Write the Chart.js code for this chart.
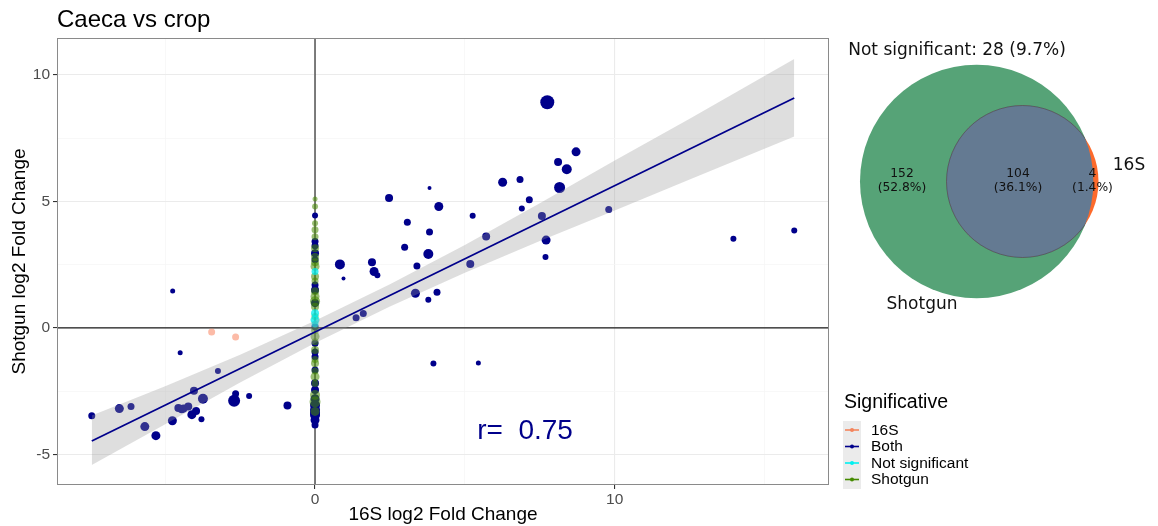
<!DOCTYPE html>
<html><head><meta charset="utf-8">
<script src="https://cdn.jsdelivr.net/npm/chart.js@4/dist/chart.umd.min.js"></script>
<style>
html,body{margin:0;padding:0;background:#fff;}
#wrap{position:relative;width:1158px;height:526px;overflow:hidden;background:#fff;}
#main{position:absolute;left:0;top:0;}
#venn{position:absolute;left:830px;top:30px;}
</style></head><body>
<div id="wrap"><canvas id="main" width="1158" height="526"></canvas><canvas id="venn" width="328" height="300"></canvas></div>
<script>
// ---------- axis ranges & ticks ----------
const xMin = -8.61, xMax = 17.15;
const yMin = -6.21, yMax = 11.46;
const xGridAt = [-5, 0, 5, 10, 15];
const xLabelAt = [0, 10];
const yGridAt = [-5, -2.5, 0, 2.5, 5, 7.5, 10];
const yLabelAt = [-5, 0, 5, 10];

// ---------- series: Both ----------
const bothX = [7.75, 8.71, 8.11, 8.40, 8.16, 6.26, 6.84, 7.15, 6.90, 7.57, 9.80, 7.71, 7.69, 5.26, 5.71, 5.18, 4.13, 3.82, 2.47, 3.08,
  3.82, 2.99, 3.78, 3.40, 0.83, 0.95, 1.90, 1.97, 2.08, 3.35, 3.78, 4.07, 1.37, 1.61, 3.95, 5.45, 13.96, 15.99,
  -4.75, -4.50, -3.24, -4.04, -3.74, -2.65, -2.70, -2.20, -0.92, -7.45, -6.53, -6.14, -5.68, -5.31, -4.76, -4.56, -4.39, -4.23, -4.45, -4.11, -3.97, -3.79,
  0, 0, 0, 0, 0, 0, 0, 0, 0, 0, 0, 0, 0, 0, 0, 0, 0, 0, 0, 0, 0, 0];
const bothY = [8.92, 6.96, 6.56, 6.27, 5.55, 5.76, 5.87, 5.07, 4.72, 4.42, 4.68, 3.47, 2.80, 4.43, 3.61, 2.53, 4.80, 5.53, 5.14, 4.18,
  3.79, 3.19, 2.92, 2.45, 2.51, 1.95, 2.60, 2.23, 2.08, 1.37, 1.11, 1.41, 0.40, 0.57, -1.41, -1.39, 3.52, 3.85,
  1.46, -0.98, -1.70, -2.48, -2.80, -2.60, -2.88, -2.69, -3.07, -3.47, -3.19, -3.11, -3.90, -4.26, -3.67, -3.17, -3.19, -3.11, -3.22, -3.43, -3.28, -3.61,
  4.44, 3.42, 3.25, 2.95, 2.69, 1.70, 1.50, 0.98, 0.05, -0.61, -1.14, -1.66, -2.19, -2.45, -2.80, -3.05, -3.24, -3.44, -3.64, -3.84, -3.35, -0.95];
const bothSize = [7, 4.5, 4, 5, 5.5, 4.5, 3.5, 3.5, 3, 4, 3.5, 4.5, 3, 3, 4, 4, 4.5, 2, 4, 3.5,
  3.5, 3.5, 5, 3.5, 5, 2, 4, 4.5, 3, 4.5, 3, 3.5, 3.5, 3.5, 3, 2.5, 3, 3,
  2.5, 2.5, 3, 4, 5, 3.5, 6, 3, 4, 3.5, 4.5, 3.5, 4.5, 4.5, 4.5, 4, 4, 4, 4, 4.5, 4, 3,
  3, 3.5, 3.5, 4, 3.5, 3.5, 4, 4, 3.5, 3.5, 3.5, 3.5, 4, 4, 4.5, 5, 5, 5, 4.5, 3.5, 5, 3.5];

// ---------- series: Shotgun (16S fold change = 0) ----------
const shotY = [5.10, 4.80, 4.14, 3.88, 3.60, 3.15, 2.80, 2.43, 2.03, 1.85, 1.24, 1.05, 0.84, 0.45, -0.08, -0.34, -0.87, -1.25, -1.40, -1.93, -2.20, -2.65, -2.92, -3.30, 2.60, 1.45, -0.55, -1.70];
const shotSize = [2.5, 3, 3, 3.5, 3.5, 4, 4, 4.5, 4, 3.5, 4.5, 5, 4, 3.5, 4, 4.5, 4, 3.5, 4, 4.5, 3.5, 5, 5.5, 4.5, 4, 4, 3.5, 3.5];

// ---------- series: Not significant ----------
const nsY = [2.23, 0.58, 0.32, 0.15];
const nsSize = [3.5, 4, 4.5, 3.5];

// ---------- series: 16S only ----------
const s16X = [-3.45, -2.65];
const s16Y = [-0.16, -0.36];
const s16Size = [3.5, 3.5];

// ---------- linear fit & confidence band ----------
const fitX = [-7.45, 15.99];
const fitY = [-4.47, 9.09];
const bandX = [-7.45, -5, -2.5, 0, 2.5, 5, 7.5, 10, 12.5, 15.99];
const bandLow = [-5.42, -3.81, -2.16, -0.60, 0.85, 2.18, 3.44, 4.64, 5.87, 7.57];
const bandHigh = [-3.46, -2.31, -1.06, 0.28, 1.73, 3.28, 4.93, 6.62, 8.27, 10.63];
const corrText = 'r=  0.75';
const corrAt = [5.41, -4.08];

// ---------- legend ----------
const legendTitle = 'Significative';
const legendLabels = ['16S', 'Both', 'Not significant', 'Shotgun'];
const legendColors = ['#f4845c', '#00008b', '#00f0f0', '#458b00'];

// ---------- venn ----------
const vennNames = ['Shotgun', '16S'];
const vennCX = [1.467, 1.925];
const vennCY = [1.485, 1.485];
const vennR = [1.167, 0.76];
const vennCounts = ['152', '104', '4'];
const vennPct = ['(52.8%)', '(36.1%)', '(1.4%)'];
const vennNotSig = 'Not significant: 28 (9.7%)';

const SANS = "'Liberation Sans', Arial, sans-serif";
const DJV = "'DejaVu Sans', sans-serif";

const pts = (xs, ys, rs) => ys.map((y, i) => ({x: xs[i], y: y, r: rs[i]}));
const zeros = n => new Array(n).fill(0);
const xy = (xs, ys) => xs.map((x, i) => ({x: x, y: ys[i]}));

const decor = {
  id: 'decor',
  afterDraw(chart) {
    const {ctx, chartArea: a, scales: {x, y}} = chart;
    ctx.save();
    ctx.strokeStyle = '#8a8a8a'; ctx.lineWidth = 1;
    ctx.strokeRect(Math.round(a.left) + 0.5, Math.round(a.top) + 0.5, Math.round(a.right - a.left) - 1, Math.round(a.bottom - a.top) - 1);
    ctx.fillStyle = '#000'; ctx.textAlign = 'left'; ctx.textBaseline = 'alphabetic';
    ctx.font = '24px ' + SANS;
    ctx.fillText('Caeca vs crop', 57, 27);
    ctx.fillStyle = '#00008b'; ctx.font = '28px ' + SANS; ctx.textBaseline = 'middle';
    ctx.fillText(corrText, x.getPixelForValue(corrAt[0]), y.getPixelForValue(corrAt[1]));
    // legend
    ctx.fillStyle = '#000'; ctx.font = '19.5px ' + SANS;
    ctx.fillText(legendTitle, 844, 403);
    ctx.fillStyle = '#ebebeb'; ctx.fillRect(843, 421, 18, 68);
    ctx.font = '15.5px ' + SANS;
    legendLabels.forEach((lab, i) => {
      const yy = 430 + i * 16.5;
      ctx.strokeStyle = legendColors[i]; ctx.lineWidth = 1.6;
      ctx.beginPath(); ctx.moveTo(845, yy); ctx.lineTo(859, yy); ctx.stroke();
      ctx.fillStyle = legendColors[i];
      ctx.beginPath(); ctx.arc(852, yy, 2, 0, Math.PI * 2); ctx.fill();
      ctx.fillStyle = '#000';
      ctx.fillText(lab, 871, yy + 0.5);
    });
    ctx.restore();
  }
};

const isLab = c => c.tick && (c.scale.axis === 'x' ? xLabelAt : yLabelAt).includes(c.tick.value);
const gridColor = c => isLab(c) ? '#ebebeb' : '#f5f5f5';
const gridWidth = c => isLab(c) ? 1.1 : 0.7;
const tickCol = c => isLab(c) ? '#333333' : 'rgba(0,0,0,0)';

new Chart(document.getElementById('main'), {
  type: 'bubble',
  data: {datasets: [
    {type: 'line', data: [{x: 0, y: yMin}, {x: 0, y: yMax}], borderColor: '#1a1a1a', borderWidth: 1.1, pointRadius: 0, order: 10},
    {type: 'line', data: [{x: xMin, y: 0}, {x: xMax, y: 0}], borderColor: '#1a1a1a', borderWidth: 1.1, pointRadius: 0, order: 10},
    {label: 'Both', data: pts(bothX, bothY, bothSize), backgroundColor: '#00008b', borderWidth: 0, order: 5},
    {label: 'Shotgun', data: pts(zeros(shotY.length), shotY, shotSize), backgroundColor: 'rgba(69,139,0,0.55)', borderWidth: 0, order: 4},
    {label: 'Not significant', data: pts(zeros(nsY.length), nsY, nsSize), backgroundColor: 'rgba(0,235,235,0.75)', borderWidth: 0, order: 3},
    {label: '16S', data: pts(s16X, s16Y, s16Size), backgroundColor: 'rgba(250,120,80,0.5)', borderWidth: 0, order: 3},
    {type: 'line', data: xy(bandX, bandLow), borderWidth: 0, borderColor: 'rgba(0,0,0,0)', pointRadius: 0, fill: false, order: 1},
    {type: 'line', data: xy(bandX, bandHigh), borderWidth: 0, borderColor: 'rgba(0,0,0,0)', pointRadius: 0, fill: '-1', backgroundColor: 'rgba(153,153,153,0.32)', order: 1},
    {type: 'line', data: xy(fitX, fitY), borderColor: '#00008b', borderWidth: 1.8, pointRadius: 0, order: 0}
  ]},
  options: {
    responsive: false, animation: false, events: [],
    layout: {padding: {left: 0, top: 38, right: 329, bottom: 0}},
    plugins: {legend: {display: false}, tooltip: {enabled: false}},
    scales: {
      x: {
        type: 'linear', min: xMin, max: xMax,
        afterBuildTicks: s => { s.ticks = xGridAt.map(v => ({value: v})); },
        afterFit: s => { s.height = 41; },
        ticks: {autoSkip: false, maxRotation: 0, padding: 1, color: '#4d4d4d', font: {family: SANS, size: 15.5},
          callback: v => xLabelAt.includes(v) ? String(v) : ''},
        grid: {color: gridColor, lineWidth: gridWidth, tickColor: tickCol, tickLength: 4, drawTicks: true},
        border: {display: false},
        title: {display: true, text: '16S log2 Fold Change', color: '#000', font: {family: SANS, size: 19}, padding: {top: 0, bottom: 0}}
      },
      y: {
        type: 'linear', min: yMin, max: yMax,
        afterBuildTicks: s => { s.ticks = yGridAt.map(v => ({value: v})); },
        afterFit: s => { s.width = 57; },
        ticks: {autoSkip: false, padding: 3, color: '#4d4d4d', font: {family: SANS, size: 15.5},
          callback: v => yLabelAt.includes(v) ? String(v) : ''},
        grid: {color: gridColor, lineWidth: gridWidth, tickColor: tickCol, tickLength: 4, drawTicks: true},
        border: {display: false},
        title: {display: true, text: 'Shotgun log2 Fold Change', color: '#000', font: {family: SANS, size: 19}, padding: {top: 8.6, bottom: 0}}
      }
    }
  },
  plugins: [decor]
});

// ---------- venn diagram ----------
const vennLabelPos = [[0.72, 1.49], [1.88, 1.49], [2.625, 1.49]];
const vennNamePos = [[0.92, 0.25], [2.99, 1.64]];
const vennTitlePos = [1.27, 2.79];

const vennPlugin = {
  id: 'vennDraw',
  afterDatasetsDraw(chart) {
    const {ctx, scales: {x, y}} = chart;
    const C = i => {
      const px = x.getPixelForValue(vennCX[i]), py = y.getPixelForValue(vennCY[i]);
      return {px, py, pr: x.getPixelForValue(vennCX[i] + vennR[i]) - px};
    };
    const a = C(0), b = C(1);
    ctx.save();
    ctx.fillStyle = '#56a377';
    ctx.beginPath(); ctx.arc(a.px, a.py, a.pr, 0, Math.PI * 2); ctx.fill();
    ctx.fillStyle = '#fd6a2b';
    ctx.beginPath(); ctx.arc(b.px, b.py, b.pr, 0, Math.PI * 2); ctx.fill();
    ctx.save();
    ctx.beginPath(); ctx.arc(a.px, a.py, a.pr, 0, Math.PI * 2); ctx.clip();
    ctx.fillStyle = '#647a92';
    ctx.beginPath(); ctx.arc(b.px, b.py, b.pr, 0, Math.PI * 2); ctx.fill();
    ctx.strokeStyle = 'rgba(50,65,85,0.55)'; ctx.lineWidth = 1;
    ctx.stroke();
    ctx.restore();
    ctx.fillStyle = '#111'; ctx.textAlign = 'center'; ctx.textBaseline = 'middle';
    ctx.font = '12.3px ' + DJV;
    vennLabelPos.forEach((p, i) => {
      const px = x.getPixelForValue(p[0]), py = y.getPixelForValue(p[1]);
      ctx.fillText(vennCounts[i], px, py - 7);
      ctx.fillText(vennPct[i], px, py + 7);
    });
    ctx.font = '17px ' + DJV;
    vennNames.forEach((n, i) => {
      ctx.fillText(n, x.getPixelForValue(vennNamePos[i][0]), y.getPixelForValue(vennNamePos[i][1]));
    });
    ctx.fillText(vennNotSig, x.getPixelForValue(vennTitlePos[0]), y.getPixelForValue(vennTitlePos[1]));
    ctx.restore();
  }
};

new Chart(document.getElementById('venn'), {
  type: 'scatter',
  data: {datasets: [{data: vennCX.map((cx, i) => ({x: cx, y: vennCY[i]})), pointRadius: 0}]},
  options: {
    responsive: false, animation: false, events: [],
    layout: {padding: 0},
    plugins: {legend: {display: false}, tooltip: {enabled: false}},
    scales: {x: {display: false, min: 0, max: 3.28}, y: {display: false, min: 0, max: 3.0}}
  },
  plugins: [vennPlugin]
});
</script>
</body></html>
